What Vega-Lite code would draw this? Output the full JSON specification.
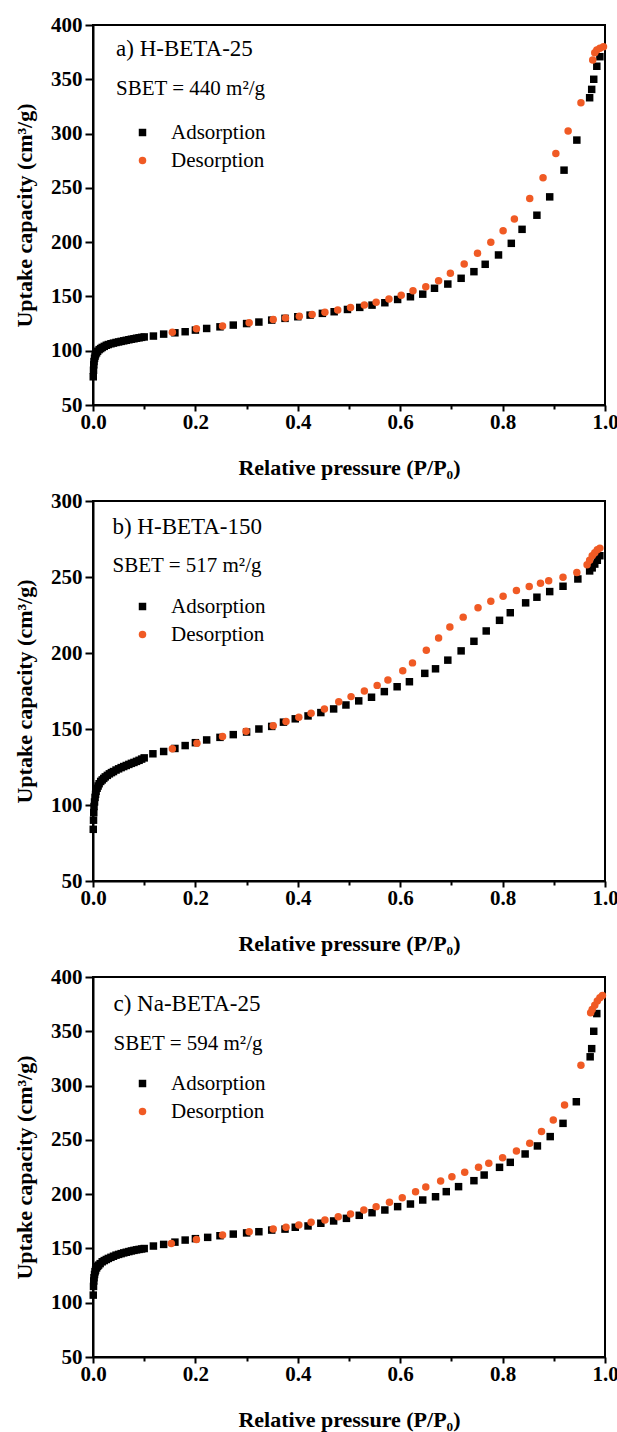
{
  "$schema": "https://vega.github.io/schema/vega-lite/v6.json",
  "background": "white",
  "padding": {"left": 12, "top": 13, "right": 0, "bottom": 5},
  "bounds": "flush",
  "spacing": 96,
  "datasets": {
    "a": [
      {"p":0.0005,"v":76,"s":"Adsorption"},{"p":0.001,"v":82,"s":"Adsorption"},{"p":0.0015,"v":87,"s":"Adsorption"},{"p":0.002,"v":90,"s":"Adsorption"},{"p":0.003,"v":93,"s":"Adsorption"},{"p":0.004,"v":95,"s":"Adsorption"},{"p":0.005,"v":96.5,"s":"Adsorption"},{"p":0.007,"v":98,"s":"Adsorption"},{"p":0.009,"v":99.5,"s":"Adsorption"},{"p":0.012,"v":101,"s":"Adsorption"},{"p":0.015,"v":102,"s":"Adsorption"},{"p":0.018,"v":103,"s":"Adsorption"},{"p":0.022,"v":104,"s":"Adsorption"},{"p":0.026,"v":105,"s":"Adsorption"},{"p":0.03,"v":105.7,"s":"Adsorption"},{"p":0.035,"v":106.4,"s":"Adsorption"},{"p":0.04,"v":107,"s":"Adsorption"},{"p":0.045,"v":107.6,"s":"Adsorption"},{"p":0.05,"v":108.1,"s":"Adsorption"},{"p":0.055,"v":108.6,"s":"Adsorption"},{"p":0.06,"v":109.1,"s":"Adsorption"},{"p":0.065,"v":109.6,"s":"Adsorption"},{"p":0.07,"v":110.1,"s":"Adsorption"},{"p":0.075,"v":110.6,"s":"Adsorption"},{"p":0.08,"v":111,"s":"Adsorption"},{"p":0.085,"v":111.5,"s":"Adsorption"},{"p":0.09,"v":111.9,"s":"Adsorption"},{"p":0.095,"v":112.3,"s":"Adsorption"},{"p":0.1,"v":112.7,"s":"Adsorption"},
      {"p":0.118,"v":113.5,"s":"Adsorption"},{"p":0.138,"v":115.3,"s":"Adsorption"},{"p":0.16,"v":116.5,"s":"Adsorption"},{"p":0.18,"v":117.5,"s":"Adsorption"},{"p":0.2,"v":119,"s":"Adsorption"},{"p":0.222,"v":120.5,"s":"Adsorption"},{"p":0.248,"v":122,"s":"Adsorption"},{"p":0.274,"v":123.6,"s":"Adsorption"},{"p":0.3,"v":125,"s":"Adsorption"},{"p":0.324,"v":126.4,"s":"Adsorption"},{"p":0.349,"v":128.2,"s":"Adsorption"},{"p":0.375,"v":129.8,"s":"Adsorption"},{"p":0.4,"v":131.3,"s":"Adsorption"},{"p":0.424,"v":132.8,"s":"Adsorption"},{"p":0.448,"v":134.4,"s":"Adsorption"},{"p":0.471,"v":135.9,"s":"Adsorption"},{"p":0.497,"v":138,"s":"Adsorption"},{"p":0.521,"v":139.9,"s":"Adsorption"},{"p":0.545,"v":142,"s":"Adsorption"},{"p":0.57,"v":144.2,"s":"Adsorption"},{"p":0.595,"v":147.2,"s":"Adsorption"},{"p":0.62,"v":149.7,"s":"Adsorption"},{"p":0.644,"v":152.1,"s":"Adsorption"},{"p":0.667,"v":157.5,"s":"Adsorption"},{"p":0.693,"v":161.4,"s":"Adsorption"},{"p":0.719,"v":166.7,"s":"Adsorption"},{"p":0.744,"v":172.8,"s":"Adsorption"},{"p":0.766,"v":179.6,"s":"Adsorption"},{"p":0.792,"v":188.2,"s":"Adsorption"},{"p":0.817,"v":198.9,"s":"Adsorption"},{"p":0.838,"v":211.8,"s":"Adsorption"},{"p":0.867,"v":224.8,"s":"Adsorption"},{"p":0.892,"v":241.7,"s":"Adsorption"},{"p":0.92,"v":266.3,"s":"Adsorption"},{"p":0.945,"v":294,"s":"Adsorption"},{"p":0.97,"v":333,"s":"Adsorption"},{"p":0.974,"v":340.7,"s":"Adsorption"},{"p":0.978,"v":350,"s":"Adsorption"},{"p":0.984,"v":362,"s":"Adsorption"},{"p":0.99,"v":370.8,"s":"Adsorption"},
      {"p":0.155,"v":116.9,"s":"Desorption"},{"p":0.202,"v":120.2,"s":"Desorption"},{"p":0.253,"v":122.7,"s":"Desorption"},{"p":0.305,"v":125.8,"s":"Desorption"},{"p":0.352,"v":128.8,"s":"Desorption"},{"p":0.376,"v":130.2,"s":"Desorption"},{"p":0.403,"v":131.8,"s":"Desorption"},{"p":0.428,"v":133.3,"s":"Desorption"},{"p":0.453,"v":135.5,"s":"Desorption"},{"p":0.478,"v":137.6,"s":"Desorption"},{"p":0.503,"v":139.8,"s":"Desorption"},{"p":0.53,"v":142.2,"s":"Desorption"},{"p":0.553,"v":144.6,"s":"Desorption"},{"p":0.578,"v":147.6,"s":"Desorption"},{"p":0.602,"v":151,"s":"Desorption"},{"p":0.625,"v":155.3,"s":"Desorption"},{"p":0.65,"v":159,"s":"Desorption"},{"p":0.675,"v":164.5,"s":"Desorption"},{"p":0.698,"v":171.3,"s":"Desorption"},{"p":0.725,"v":179.9,"s":"Desorption"},{"p":0.751,"v":189.7,"s":"Desorption"},{"p":0.777,"v":199.8,"s":"Desorption"},{"p":0.801,"v":210.5,"s":"Desorption"},{"p":0.823,"v":221.3,"s":"Desorption"},{"p":0.853,"v":240.2,"s":"Desorption"},{"p":0.879,"v":259.3,"s":"Desorption"},{"p":0.904,"v":281.7,"s":"Desorption"},{"p":0.928,"v":302.3,"s":"Desorption"},{"p":0.953,"v":328.4,"s":"Desorption"},{"p":0.976,"v":367.7,"s":"Desorption"},{"p":0.98,"v":374.5,"s":"Desorption"},{"p":0.984,"v":377,"s":"Desorption"},{"p":0.99,"v":378.5,"s":"Desorption"},{"p":0.997,"v":380,"s":"Desorption"}
    ],
    "b": [
      {"p":0.0005,"v":84,"s":"Adsorption"},{"p":0.001,"v":90,"s":"Adsorption"},{"p":0.0015,"v":95,"s":"Adsorption"},{"p":0.002,"v":99,"s":"Adsorption"},{"p":0.003,"v":102,"s":"Adsorption"},{"p":0.004,"v":105,"s":"Adsorption"},{"p":0.005,"v":107,"s":"Adsorption"},{"p":0.006,"v":109,"s":"Adsorption"},{"p":0.008,"v":111,"s":"Adsorption"},{"p":0.01,"v":112.5,"s":"Adsorption"},{"p":0.012,"v":114,"s":"Adsorption"},{"p":0.015,"v":115.5,"s":"Adsorption"},{"p":0.018,"v":116.5,"s":"Adsorption"},{"p":0.021,"v":117.5,"s":"Adsorption"},{"p":0.024,"v":118.5,"s":"Adsorption"},{"p":0.028,"v":119.5,"s":"Adsorption"},{"p":0.032,"v":120.5,"s":"Adsorption"},{"p":0.036,"v":121.3,"s":"Adsorption"},{"p":0.04,"v":122,"s":"Adsorption"},{"p":0.045,"v":123,"s":"Adsorption"},{"p":0.05,"v":123.8,"s":"Adsorption"},{"p":0.055,"v":124.6,"s":"Adsorption"},{"p":0.06,"v":125.3,"s":"Adsorption"},{"p":0.065,"v":126,"s":"Adsorption"},{"p":0.07,"v":126.7,"s":"Adsorption"},{"p":0.075,"v":127.4,"s":"Adsorption"},{"p":0.08,"v":128,"s":"Adsorption"},{"p":0.085,"v":128.7,"s":"Adsorption"},{"p":0.09,"v":129.4,"s":"Adsorption"},{"p":0.095,"v":130.2,"s":"Adsorption"},{"p":0.1,"v":131,"s":"Adsorption"},
      {"p":0.117,"v":133.7,"s":"Adsorption"},{"p":0.138,"v":135.2,"s":"Adsorption"},{"p":0.16,"v":137.2,"s":"Adsorption"},{"p":0.18,"v":139.1,"s":"Adsorption"},{"p":0.2,"v":141,"s":"Adsorption"},{"p":0.222,"v":142.8,"s":"Adsorption"},{"p":0.248,"v":144.5,"s":"Adsorption"},{"p":0.274,"v":146.3,"s":"Adsorption"},{"p":0.3,"v":148,"s":"Adsorption"},{"p":0.324,"v":150,"s":"Adsorption"},{"p":0.349,"v":151.7,"s":"Adsorption"},{"p":0.372,"v":154.5,"s":"Adsorption"},{"p":0.395,"v":156.7,"s":"Adsorption"},{"p":0.42,"v":158.6,"s":"Adsorption"},{"p":0.445,"v":160.8,"s":"Adsorption"},{"p":0.47,"v":163.2,"s":"Adsorption"},{"p":0.494,"v":165.8,"s":"Adsorption"},{"p":0.519,"v":168.5,"s":"Adsorption"},{"p":0.544,"v":170.9,"s":"Adsorption"},{"p":0.569,"v":174.6,"s":"Adsorption"},{"p":0.594,"v":177.8,"s":"Adsorption"},{"p":0.618,"v":181.1,"s":"Adsorption"},{"p":0.648,"v":186.6,"s":"Adsorption"},{"p":0.669,"v":189.6,"s":"Adsorption"},{"p":0.693,"v":195.3,"s":"Adsorption"},{"p":0.719,"v":201.4,"s":"Adsorption"},{"p":0.744,"v":207.7,"s":"Adsorption"},{"p":0.768,"v":214.5,"s":"Adsorption"},{"p":0.794,"v":221.5,"s":"Adsorption"},{"p":0.815,"v":226.5,"s":"Adsorption"},{"p":0.845,"v":233,"s":"Adsorption"},{"p":0.867,"v":236.7,"s":"Adsorption"},{"p":0.892,"v":240.4,"s":"Adsorption"},{"p":0.918,"v":243.9,"s":"Adsorption"},{"p":0.947,"v":248.7,"s":"Adsorption"},{"p":0.97,"v":254,"s":"Adsorption"},{"p":0.975,"v":256,"s":"Adsorption"},{"p":0.98,"v":258.5,"s":"Adsorption"},{"p":0.985,"v":261,"s":"Adsorption"},{"p":0.99,"v":264,"s":"Adsorption"},
      {"p":0.155,"v":137,"s":"Desorption"},{"p":0.203,"v":140.7,"s":"Desorption"},{"p":0.253,"v":145,"s":"Desorption"},{"p":0.299,"v":148.5,"s":"Desorption"},{"p":0.352,"v":152.2,"s":"Desorption"},{"p":0.377,"v":155,"s":"Desorption"},{"p":0.402,"v":157.8,"s":"Desorption"},{"p":0.426,"v":160.4,"s":"Desorption"},{"p":0.452,"v":163.2,"s":"Desorption"},{"p":0.48,"v":168,"s":"Desorption"},{"p":0.504,"v":171.3,"s":"Desorption"},{"p":0.53,"v":175,"s":"Desorption"},{"p":0.555,"v":178.7,"s":"Desorption"},{"p":0.576,"v":182.2,"s":"Desorption"},{"p":0.605,"v":188.3,"s":"Desorption"},{"p":0.624,"v":193.5,"s":"Desorption"},{"p":0.651,"v":201.8,"s":"Desorption"},{"p":0.675,"v":209.9,"s":"Desorption"},{"p":0.697,"v":217.1,"s":"Desorption"},{"p":0.723,"v":223.6,"s":"Desorption"},{"p":0.752,"v":229.8,"s":"Desorption"},{"p":0.777,"v":234.1,"s":"Desorption"},{"p":0.801,"v":237.4,"s":"Desorption"},{"p":0.827,"v":241.1,"s":"Desorption"},{"p":0.852,"v":243.7,"s":"Desorption"},{"p":0.874,"v":245.9,"s":"Desorption"},{"p":0.89,"v":247.6,"s":"Desorption"},{"p":0.918,"v":249.8,"s":"Desorption"},{"p":0.945,"v":253,"s":"Desorption"},{"p":0.965,"v":258,"s":"Desorption"},{"p":0.97,"v":261,"s":"Desorption"},{"p":0.975,"v":264,"s":"Desorption"},{"p":0.98,"v":266,"s":"Desorption"},{"p":0.985,"v":268,"s":"Desorption"},{"p":0.99,"v":269,"s":"Desorption"}
    ],
    "c": [
      {"p":0.0005,"v":107,"s":"Adsorption"},{"p":0.001,"v":115,"s":"Adsorption"},{"p":0.0015,"v":120,"s":"Adsorption"},{"p":0.002,"v":123,"s":"Adsorption"},{"p":0.003,"v":126,"s":"Adsorption"},{"p":0.004,"v":128.5,"s":"Adsorption"},{"p":0.005,"v":130,"s":"Adsorption"},{"p":0.007,"v":132,"s":"Adsorption"},{"p":0.009,"v":133.5,"s":"Adsorption"},{"p":0.011,"v":134.6,"s":"Adsorption"},{"p":0.014,"v":136,"s":"Adsorption"},{"p":0.018,"v":137.7,"s":"Adsorption"},{"p":0.022,"v":138.8,"s":"Adsorption"},{"p":0.026,"v":139.8,"s":"Adsorption"},{"p":0.03,"v":140.8,"s":"Adsorption"},{"p":0.035,"v":141.8,"s":"Adsorption"},{"p":0.04,"v":142.8,"s":"Adsorption"},{"p":0.045,"v":143.8,"s":"Adsorption"},{"p":0.05,"v":144.5,"s":"Adsorption"},{"p":0.055,"v":145.2,"s":"Adsorption"},{"p":0.06,"v":145.9,"s":"Adsorption"},{"p":0.065,"v":146.5,"s":"Adsorption"},{"p":0.07,"v":147.1,"s":"Adsorption"},{"p":0.075,"v":147.7,"s":"Adsorption"},{"p":0.08,"v":148.2,"s":"Adsorption"},{"p":0.085,"v":148.7,"s":"Adsorption"},{"p":0.09,"v":149.1,"s":"Adsorption"},{"p":0.095,"v":149.5,"s":"Adsorption"},{"p":0.1,"v":149.9,"s":"Adsorption"},
      {"p":0.118,"v":152.2,"s":"Adsorption"},{"p":0.138,"v":153.7,"s":"Adsorption"},{"p":0.16,"v":155.8,"s":"Adsorption"},{"p":0.18,"v":157.7,"s":"Adsorption"},{"p":0.2,"v":159,"s":"Adsorption"},{"p":0.224,"v":160.2,"s":"Adsorption"},{"p":0.248,"v":161.7,"s":"Adsorption"},{"p":0.274,"v":163.2,"s":"Adsorption"},{"p":0.3,"v":164.3,"s":"Adsorption"},{"p":0.324,"v":165.4,"s":"Adsorption"},{"p":0.349,"v":166.9,"s":"Adsorption"},{"p":0.375,"v":167.8,"s":"Adsorption"},{"p":0.395,"v":169.5,"s":"Adsorption"},{"p":0.42,"v":170.7,"s":"Adsorption"},{"p":0.445,"v":173.2,"s":"Adsorption"},{"p":0.47,"v":175.3,"s":"Adsorption"},{"p":0.495,"v":177.7,"s":"Adsorption"},{"p":0.52,"v":180.5,"s":"Adsorption"},{"p":0.545,"v":182.9,"s":"Adsorption"},{"p":0.57,"v":185.4,"s":"Adsorption"},{"p":0.595,"v":188.5,"s":"Adsorption"},{"p":0.62,"v":190.9,"s":"Adsorption"},{"p":0.644,"v":194.6,"s":"Adsorption"},{"p":0.669,"v":197.6,"s":"Adsorption"},{"p":0.69,"v":202.3,"s":"Adsorption"},{"p":0.714,"v":206.9,"s":"Adsorption"},{"p":0.744,"v":212.4,"s":"Adsorption"},{"p":0.764,"v":217.6,"s":"Adsorption"},{"p":0.794,"v":224.7,"s":"Adsorption"},{"p":0.815,"v":229.3,"s":"Adsorption"},{"p":0.844,"v":237,"s":"Adsorption"},{"p":0.868,"v":244.4,"s":"Adsorption"},{"p":0.893,"v":253,"s":"Adsorption"},{"p":0.918,"v":265.2,"s":"Adsorption"},{"p":0.944,"v":285.1,"s":"Adsorption"},{"p":0.971,"v":326.5,"s":"Adsorption"},{"p":0.974,"v":334,"s":"Adsorption"},{"p":0.978,"v":350,"s":"Adsorption"},{"p":0.984,"v":366.3,"s":"Adsorption"},
      {"p":0.153,"v":154.6,"s":"Desorption"},{"p":0.202,"v":158.3,"s":"Desorption"},{"p":0.253,"v":162.3,"s":"Desorption"},{"p":0.305,"v":165.4,"s":"Desorption"},{"p":0.352,"v":167.8,"s":"Desorption"},{"p":0.377,"v":169.5,"s":"Desorption"},{"p":0.402,"v":171.6,"s":"Desorption"},{"p":0.426,"v":174.1,"s":"Desorption"},{"p":0.453,"v":176.2,"s":"Desorption"},{"p":0.479,"v":179.2,"s":"Desorption"},{"p":0.503,"v":181.7,"s":"Desorption"},{"p":0.529,"v":185.4,"s":"Desorption"},{"p":0.553,"v":188.5,"s":"Desorption"},{"p":0.579,"v":192.5,"s":"Desorption"},{"p":0.604,"v":196.7,"s":"Desorption"},{"p":0.63,"v":202.3,"s":"Desorption"},{"p":0.65,"v":206.6,"s":"Desorption"},{"p":0.679,"v":212.1,"s":"Desorption"},{"p":0.701,"v":216.1,"s":"Desorption"},{"p":0.726,"v":220.1,"s":"Desorption"},{"p":0.753,"v":224.7,"s":"Desorption"},{"p":0.773,"v":228.4,"s":"Desorption"},{"p":0.8,"v":233.6,"s":"Desorption"},{"p":0.827,"v":239.7,"s":"Desorption"},{"p":0.853,"v":246.9,"s":"Desorption"},{"p":0.876,"v":257.6,"s":"Desorption"},{"p":0.899,"v":268.3,"s":"Desorption"},{"p":0.921,"v":282,"s":"Desorption"},{"p":0.953,"v":318.8,"s":"Desorption"},{"p":0.972,"v":367,"s":"Desorption"},{"p":0.975,"v":370,"s":"Desorption"},{"p":0.98,"v":374,"s":"Desorption"},{"p":0.985,"v":378,"s":"Desorption"},{"p":0.99,"v":381,"s":"Desorption"},{"p":0.995,"v":383,"s":"Desorption"}
    ]
  },
  "resolve": {
    "scale": {"x": "independent", "y": "independent", "color": "independent", "shape": "independent"},
    "legend": {"color": "independent", "shape": "independent"}
  },
  "vconcat": [
    {
      "width": 512, "height": 380,
      "layer": [
        {
          "data": {"name": "a"},
          "mark": {"type": "point", "filled": true, "size": 56, "opacity": 1},
          "encoding": {
            "x": {"field": "p", "type": "quantitative", "scale": {"domain": [0, 1], "nice": false},
              "axis": {"title": "Relative pressure (P/P₀)", "values": [0,0.1,0.2,0.3,0.4,0.5,0.6,0.7,0.8,0.9,1], "format": ".1f",
                "labelExpr": "round(datum.value*10) % 2 === 0 ? datum.label : ''",
                "tickSize": {"condition": {"test": "round(datum.value*10) % 2 === 0", "value": 6}, "value": 4}}},
            "y": {"field": "v", "type": "quantitative", "scale": {"domain": [50, 400], "nice": false},
              "axis": {"title": "Uptake capacity (cm³/g)", "values": [50,75,100,125,150,175,200,225,250,275,300,325,350,375,400],
                "labelExpr": "datum.value % 50 === 0 ? datum.label : ''",
                "tickSize": {"condition": {"test": "datum.value % 50 === 0", "value": 8}, "value": 5}}},
            "color": {"field": "s", "type": "nominal", "scale": {"domain": ["Adsorption", "Desorption"], "range": ["#000000", "#f05a24"]}, "legend": {"title": null, "orient": "none", "legendX": 39, "legendY": 97}},
            "shape": {"field": "s", "type": "nominal", "scale": {"domain": ["Adsorption", "Desorption"], "range": ["square", "circle"]}, "legend": {"title": null, "orient": "none", "legendX": 39, "legendY": 97}}
          }
        },
        {
          "data": {"values": [{"t": "a) H-BETA-25"}]},
          "mark": {"type": "text", "align": "left", "baseline": "middle", "fontSize": 23, "font": "Liberation Serif", "color": "black"},
          "encoding": {"x": {"datum": 0.045}, "y": {"datum": 378}, "text": {"field": "t"}}
        },
        {
          "data": {"values": [{"t": "SBET = 440 m²/g"}]},
          "mark": {"type": "text", "align": "left", "baseline": "middle", "fontSize": 21, "font": "Liberation Serif", "color": "black"},
          "encoding": {"x": {"datum": 0.045}, "y": {"datum": 341}, "text": {"field": "t"}}
        }
      ]
    },
    {
      "width": 512, "height": 380,
      "layer": [
        {
          "data": {"name": "b"},
          "mark": {"type": "point", "filled": true, "size": 56, "opacity": 1},
          "encoding": {
            "x": {"field": "p", "type": "quantitative", "scale": {"domain": [0, 1], "nice": false},
              "axis": {"title": "Relative pressure (P/P₀)", "values": [0,0.1,0.2,0.3,0.4,0.5,0.6,0.7,0.8,0.9,1], "format": ".1f",
                "labelExpr": "round(datum.value*10) % 2 === 0 ? datum.label : ''",
                "tickSize": {"condition": {"test": "round(datum.value*10) % 2 === 0", "value": 6}, "value": 4}}},
            "y": {"field": "v", "type": "quantitative", "scale": {"domain": [50, 300], "nice": false},
              "axis": {"title": "Uptake capacity (cm³/g)", "values": [50,75,100,125,150,175,200,225,250,275,300],
                "labelExpr": "datum.value % 50 === 0 ? datum.label : ''",
                "tickSize": {"condition": {"test": "datum.value % 50 === 0", "value": 8}, "value": 5}}},
            "color": {"field": "s", "type": "nominal", "scale": {"domain": ["Adsorption", "Desorption"], "range": ["#000000", "#f05a24"]}, "legend": {"title": null, "orient": "none", "legendX": 39, "legendY": 95}},
            "shape": {"field": "s", "type": "nominal", "scale": {"domain": ["Adsorption", "Desorption"], "range": ["square", "circle"]}, "legend": {"title": null, "orient": "none", "legendX": 39, "legendY": 95}}
          }
        },
        {
          "data": {"values": [{"t": "b) H-BETA-150"}]},
          "mark": {"type": "text", "align": "left", "baseline": "middle", "fontSize": 23, "font": "Liberation Serif", "color": "black"},
          "encoding": {"x": {"datum": 0.038}, "y": {"datum": 283}, "text": {"field": "t"}}
        },
        {
          "data": {"values": [{"t": "SBET = 517 m²/g"}]},
          "mark": {"type": "text", "align": "left", "baseline": "middle", "fontSize": 21, "font": "Liberation Serif", "color": "black"},
          "encoding": {"x": {"datum": 0.038}, "y": {"datum": 257}, "text": {"field": "t"}}
        }
      ]
    },
    {
      "width": 512, "height": 380,
      "layer": [
        {
          "data": {"name": "c"},
          "mark": {"type": "point", "filled": true, "size": 56, "opacity": 1},
          "encoding": {
            "x": {"field": "p", "type": "quantitative", "scale": {"domain": [0, 1], "nice": false},
              "axis": {"title": "Relative pressure (P/P₀)", "values": [0,0.1,0.2,0.3,0.4,0.5,0.6,0.7,0.8,0.9,1], "format": ".1f",
                "labelExpr": "round(datum.value*10) % 2 === 0 ? datum.label : ''",
                "tickSize": {"condition": {"test": "round(datum.value*10) % 2 === 0", "value": 6}, "value": 4}}},
            "y": {"field": "v", "type": "quantitative", "scale": {"domain": [50, 400], "nice": false},
              "axis": {"title": "Uptake capacity (cm³/g)", "values": [50,75,100,125,150,175,200,225,250,275,300,325,350,375,400],
                "labelExpr": "datum.value % 50 === 0 ? datum.label : ''",
                "tickSize": {"condition": {"test": "datum.value % 50 === 0", "value": 8}, "value": 5}}},
            "color": {"field": "s", "type": "nominal", "scale": {"domain": ["Adsorption", "Desorption"], "range": ["#000000", "#f05a24"]}, "legend": {"title": null, "orient": "none", "legendX": 39, "legendY": 96}},
            "shape": {"field": "s", "type": "nominal", "scale": {"domain": ["Adsorption", "Desorption"], "range": ["square", "circle"]}, "legend": {"title": null, "orient": "none", "legendX": 39, "legendY": 96}}
          }
        },
        {
          "data": {"values": [{"t": "c) Na-BETA-25"}]},
          "mark": {"type": "text", "align": "left", "baseline": "middle", "fontSize": 23, "font": "Liberation Serif", "color": "black"},
          "encoding": {"x": {"datum": 0.04}, "y": {"datum": 375}, "text": {"field": "t"}}
        },
        {
          "data": {"values": [{"t": "SBET = 594 m²/g"}]},
          "mark": {"type": "text", "align": "left", "baseline": "middle", "fontSize": 21, "font": "Liberation Serif", "color": "black"},
          "encoding": {"x": {"datum": 0.04}, "y": {"datum": 338}, "text": {"field": "t"}}
        }
      ]
    }
  ],
  "config": {
    "font": "Liberation Serif",
    "view": {"stroke": "black", "strokeWidth": 2},
    "axis": {
      "grid": false, "domainColor": "black", "domainWidth": 2, "tickColor": "black", "tickWidth": 2,
      "labelFont": "Liberation Serif", "labelFontWeight": "bold", "labelFontSize": 21, "labelColor": "black", "labelPadding": 3,
      "titleFont": "Liberation Serif", "titleFontWeight": "bold", "titleFontSize": 22, "titleColor": "black",
      "labelOverlap": false, "labelFlush": false, "labelBound": false
    },
    "axisX": {"titlePadding": 25, "labelPadding": 0},
    "axisY": {"titlePadding": 14},
    "legend": {
      "labelFont": "Liberation Serif", "labelFontSize": 21, "labelColor": "black", "labelFontWeight": "normal",
      "symbolSize": 56, "symbolStrokeWidth": 0, "rowPadding": 6, "labelOffset": 18, "padding": 0
    }
  }
}
